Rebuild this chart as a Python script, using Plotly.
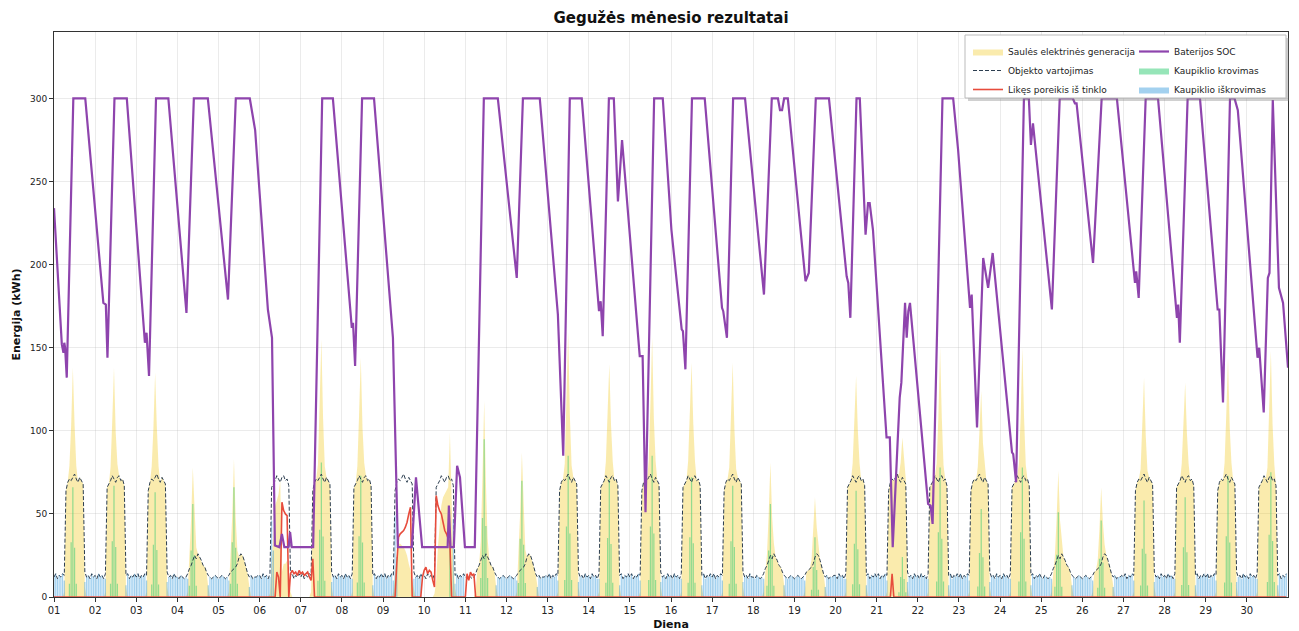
import numpy as np
import pandas as pd
import plotly.graph_objects as go

START = pd.Timestamp("2024-05-01")
N_DAYS = 30

# ---------------- data ----------------
day_labels = [f"{d:02d}" for d in range(1, 31)]
# W = weekday, S = Saturday, U = Sunday
day_kind = ["W", "W", "W", "S", "U", "W", "W", "W", "W", "W",
            "S", "U", "W", "W", "W", "W", "W", "S", "U", "W",
            "W", "W", "W", "W", "S", "U", "W", "W", "W", "W"]

cons_weekday_a = [12, 14, 11, 13, 12, 14, 13, 64, 69, 71, 70, 72, 74, 71, 69, 72, 70, 68, 15, 12, 13, 11, 14, 12]
cons_weekday_b = [13, 11, 14, 12, 13, 11, 14, 66, 68, 70, 73, 71, 69, 72, 73, 70, 71, 67, 13, 14, 11, 13, 12, 14]
cons_saturday = [12, 11, 13, 12, 11, 12, 14, 17, 19, 22, 25, 23, 26, 24, 22, 19, 18, 15, 13, 12, 11, 12, 13, 12]
cons_sunday = [11, 12, 13, 12, 11, 12, 13, 15, 16, 17, 18, 20, 24, 26, 25, 22, 18, 14, 12, 13, 11, 12, 12, 13]

solar_peak = [138, 138, 135, 78, 83, 65, 155, 144, 40, 99, 118, 87, 159, 140, 156,
              141, 141, 81, 60, 133, 96, 150, 124, 150, 76, 66, 132, 129, 144, 148]
solar_peak_hour = [11, 11, 11, 9, 9, 12, 12, 11, 12, 15, 11, 9, 12, 12, 13,
                   12, 12, 10, 12, 12, 15, 13, 13, 13, 10, 11, 12, 12, 13, 14]
solar_morning = [0, 0, 0, 0, 0, 0, 3, 0, 0, 0, 0, 0, 0, 0, 0, 0, 0, 0, 6, 0, 0, 0, 0, 0]
spike_rel = [0.12, 0.5, 1.0, 0.45, 0.12]  # hours -2..+2 around the daily peak

solar_days_low = {
    5: [0, 0, 0, 0, 0, 0, 2, 20, 40, 55, 58, 62, 70, 15, 20, 20, 22, 10, 3, 0, 0, 0, 0, 0],
    8: [0, 0, 0, 0, 0, 0, 3, 15, 25, 32, 32, 31, 30, 28, 25, 20, 16, 10, 4, 0, 0, 0, 0, 0],
    9: [0, 0, 0, 0, 0, 0, 2, 10, 30, 45, 55, 60, 62, 64, 66, 99, 60, 20, 5, 0, 0, 0, 0, 0],
}

# (day index, start hour, hourly values) of the remaining demand from the grid
grid_segments = [
    (5, 9, [0, 15, 12, 0, 57, 52, 50, 49, 0, 14, 16, 14, 15, 13, 16,
            14, 15, 13, 14, 15, 12, 10, 23, 0]),
    (8, 8, [20, 36, 38, 39, 40, 42, 45, 50, 54, 0]),
    (8, 23, [12, 16, 18, 14, 16, 15, 10, 6, 61, 55, 52, 50, 45, 40, 38, 35, 32, 0]),
    (10, 1, [14, 10, 15, 13, 14, 0]),
    (20, 9, [14]),
]
# battery at its minimum (no discharge), in days from the start
empty_periods = [(5.37, 6.30), (8.36, 8.72), (8.95, 9.70), (9.99, 10.25)]

soc_day = [0.00, 0.19, 0.23, 0.25, 0.27, 0.31, 0.47, 0.76, 1.20, 1.26, 1.30, 1.47, 1.77,
           2.21, 2.25, 2.31, 2.48, 2.78, 3.22, 3.40, 3.74, 4.23, 4.42, 4.76, 4.89, 5.20,
           5.30, 5.37, 5.48, 5.54, 5.60, 5.70, 5.74, 5.78, 6.30, 6.52, 6.78, 7.24, 7.27,
           7.32, 7.49, 7.78, 8.24, 8.36, 8.70, 8.80, 8.95, 9.57, 9.60, 9.64, 9.72, 9.80,
           9.87, 9.99, 10.23, 10.45, 10.79, 11.25, 11.40, 11.81, 12.25, 12.38, 12.54,
           12.83, 13.25, 13.29, 13.34, 13.49, 13.61, 13.71, 13.81, 14.24, 14.31, 14.38,
           14.59, 14.80, 15.01, 15.26, 15.29, 15.35, 15.51, 15.82, 16.24, 16.27, 16.36,
           16.51, 16.80, 17.26, 17.45, 17.60, 17.65, 17.70, 17.75, 17.84, 18.27, 18.35,
           18.52, 18.84, 19.27, 19.31, 19.36, 19.51, 19.59, 19.73, 19.79, 19.83, 19.91,
           20.24, 20.32, 20.39, 20.56, 20.60, 20.69, 20.73, 20.77, 20.81, 21.25, 21.31,
           21.36, 21.60, 21.86, 21.98, 22.27, 22.31, 22.44, 22.59, 22.71, 22.82, 23.29,
           23.32, 23.39, 23.58, 23.70, 23.75, 23.80, 24.26, 24.45, 24.77, 24.82, 24.86,
           25.26, 25.47, 25.84, 26.28, 26.31, 26.37, 26.54, 26.84, 27.30, 27.33, 27.37,
           27.56, 27.86, 28.29, 28.33, 28.42, 28.59, 28.70, 28.78, 29.26, 29.30, 29.41,
           29.51, 29.55, 29.63, 29.78, 29.88, 30.00]
soc_value = [234, 152, 147, 153, 150, 132, 300, 300, 177, 176, 144, 300, 300,
             153, 159, 133, 300, 300, 171, 300, 300, 179, 300, 300, 281, 173,
             156, 31, 30, 38, 30, 30, 39, 30, 30, 300, 300, 162, 165,
             139, 300, 300, 156, 30, 30, 72, 30, 30, 55, 30, 30, 79,
             72, 30, 30, 300, 300, 192, 300, 300, 170, 85, 300,
             300, 172, 178, 157, 300, 300, 238, 275, 145, 145, 51,
             300, 300, 221, 161, 160, 137, 300, 300, 174, 172, 156,
             300, 300, 182, 300, 300, 293, 293, 300, 300, 190, 195,
             300, 300, 193, 189, 168, 300, 300, 218, 237, 237, 221,
             96, 96, 30, 120, 129, 177, 156, 172, 177, 56, 55,
             44, 300, 300, 269, 174, 182, 102, 204, 186, 207, 87,
             86, 69, 300, 300, 272, 285, 173, 300, 300, 297, 297,
             201, 300, 300, 189, 196, 180, 300, 300, 168, 176, 153,
             300, 300, 173, 173, 117, 300, 300, 293, 144, 150, 111,
             192, 195, 299, 186, 177, 138]

# ---------------- hourly series ----------------
n_h = N_DAYS * 24
hours = START + pd.to_timedelta(np.arange(n_h), unit="h")
t_day = np.arange(n_h) / 24.0

cons = []
for d, kind in enumerate(day_kind):
    if kind == "W":
        cons += cons_weekday_a if d % 2 == 0 else cons_weekday_b
    elif kind == "S":
        cons += cons_saturday
    else:
        cons += cons_sunday
cons = np.array(cons, dtype=float)

solar = np.zeros(n_h)
for d in range(N_DAYS):
    base = d * 24
    if d in solar_days_low:
        solar[base:base + 24] = solar_days_low[d]
        continue
    for h in range(24):
        if 7 <= h <= 17:
            solar[base + h] = cons[base + h]
        else:
            solar[base + h] = solar_morning[h]
    ph = solar_peak_hour[d]
    lift = solar_peak[d] - cons[base + ph]
    for k, r in zip(range(-2, 3), spike_rel):
        i = base + ph + k
        solar[i] = max(solar[i], cons[i] + r * lift)

grid = np.zeros(n_h)
for d, h0, vals in grid_segments:
    i0 = d * 24 + h0
    grid[i0:i0 + len(vals)] = vals

charge = np.clip(solar - cons, 0, None)
discharge = np.clip(cons - solar - grid, 0, None)
for a, b in empty_periods:
    discharge[(t_day >= a) & (t_day <= b)] = 0

soc_x = START + pd.to_timedelta(np.array(soc_day), unit="D")


def bar_polys(values, half_width_h=0.36):
    xs, ys = [], []
    hw = pd.Timedelta(hours=half_width_h)
    for t, v in zip(hours, values):
        if v <= 0:
            continue
        xs += [t - hw, t - hw, t + hw, t + hw, t - hw, None]
        ys += [0, v, v, 0, 0, None]
    return xs, ys


cx, cy = bar_polys(charge)
dx, dy = bar_polys(discharge)

FONT = "DejaVu Sans"
fig = go.Figure()

fig.add_trace(go.Scatter(
    x=hours, y=solar, mode="lines", line=dict(width=0, color="rgba(241,196,15,0.35)"),
    fill="tozeroy", fillcolor="rgba(241,196,15,0.34)",
    name="Saulės elektrinės generacija", legend="legend", legendrank=1))
fig.add_trace(go.Scatter(
    x=cx, y=cy, mode="lines", line=dict(width=0, color="rgba(46,204,113,0.55)"),
    fill="toself", fillcolor="rgba(46,204,113,0.5)",
    name="Kaupiklio krovimas", legend="legend2", legendrank=2))
fig.add_trace(go.Scatter(
    x=dx, y=dy, mode="lines", line=dict(width=0, color="rgba(52,152,219,0.5)"),
    fill="toself", fillcolor="rgba(52,152,219,0.45)",
    name="Kaupiklio iškrovimas", legend="legend2", legendrank=3))
fig.add_trace(go.Scatter(
    x=hours, y=cons, mode="lines", line=dict(width=1, color="#2c3e50", dash="4px,2px"),
    name="Objekto vartojimas", legend="legend", legendrank=2))
fig.add_trace(go.Scatter(
    x=hours, y=grid, mode="lines", line=dict(width=1.6, color="#e74c3c"),
    name="Likęs poreikis iš tinklo", legend="legend", legendrank=3))
fig.add_trace(go.Scatter(
    x=soc_x, y=soc_value, mode="lines", line=dict(width=2.2, color="#8e44ad"),
    name="Baterijos SOC", legend="legend2", legendrank=1))

L, R, T, B = 54, 11, 32, 34
W, H = 1299, 631
pw, ph_ = W - L - R, H - T - B


def px_x(p):
    return (p - L) / pw


def px_y(p):
    return (H - B - p) / ph_


tick_vals = [START + pd.Timedelta(days=d) for d in range(N_DAYS)]

fig.update_layout(
    width=W, height=H, autosize=False,
    margin=dict(l=L, r=R, t=T, b=B, autoexpand=False),
    paper_bgcolor="white", plot_bgcolor="white",
    font=dict(family=FONT, size=10, color="#222"),
    title=dict(text="<b>Gegužės mėnesio rezultatai</b>", x=0.5, xref="paper",
               y=1 - 18 / H, yref="container", yanchor="middle", xanchor="center",
               font=dict(family=FONT, size=15, color="#111")),
    xaxis=dict(
        type="date", range=[START, START + pd.Timedelta(days=N_DAYS)],
        tickvals=tick_vals, ticktext=day_labels, ticks="outside", ticklen=4,
        tickcolor="#333", tickfont=dict(size=10, family=FONT, color="#222"),
        showgrid=True, gridcolor="rgba(176,176,176,0.25)", gridwidth=0.8,
        showline=True, linecolor="#333", linewidth=1, mirror=True, zeroline=False,
        title=dict(text="<b>Diena</b>", standoff=7, font=dict(size=11, family=FONT, color="#111")),
    ),
    yaxis=dict(
        range=[0, 340], tickvals=[0, 50, 100, 150, 200, 250, 300],
        ticks="outside", ticklen=4, tickcolor="#333",
        tickfont=dict(size=9, family=FONT, color="#222"),
        showgrid=True, gridcolor="rgba(176,176,176,0.25)", gridwidth=0.8,
        showline=True, linecolor="#333", linewidth=1, mirror=True, zeroline=False,
        title=dict(text="<b>Energija (kWh)</b>", standoff=7, font=dict(size=11, family=FONT, color="#111")),
    ),
    legend=dict(x=px_x(968), y=px_y(37), xanchor="left", yanchor="top",
                bgcolor="rgba(0,0,0,0)", borderwidth=0, font=dict(size=9, family=FONT, color="#222"),
                tracegroupgap=0, itemwidth=30),
    legend2=dict(x=px_x(1134), y=px_y(37), xanchor="left", yanchor="top",
                 bgcolor="rgba(0,0,0,0)", borderwidth=0, font=dict(size=9, family=FONT, color="#222"),
                 tracegroupgap=0, itemwidth=30),
    shapes=[
        dict(type="rect", xref="paper", yref="paper", layer="above",
             x0=px_x(968), x1=px_x(1289), y0=px_y(101), y1=px_y(38),
             fillcolor="rgba(120,120,120,0.35)", line=dict(width=0)),
        dict(type="rect", xref="paper", yref="paper", layer="above",
             x0=px_x(965), x1=px_x(1286), y0=px_y(98), y1=px_y(35),
             fillcolor="white", line=dict(width=1, color="#bbbbbb")),
    ],
    showlegend=True,
)

fig.write_html(
    "out.html",
    config={"displayModeBar": False},
    post_script="document.body.style.margin='0';document.body.style.overflow='hidden';",
)
